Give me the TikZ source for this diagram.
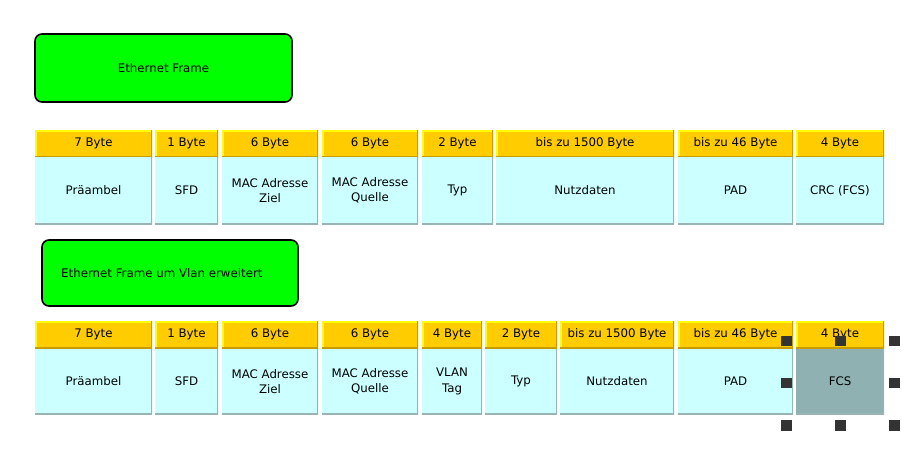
\documentclass[tikz,border=0pt]{standalone}
\usepackage{fontspec}
\setmainfont{DejaVu Sans}
\definecolor{headcol}{HTML}{FFCC00}
\definecolor{headhi}{HTML}{FFFF00}
\definecolor{headlo}{HTML}{C89B00}
\definecolor{bodycol}{HTML}{CCFFFF}
\definecolor{bodylo}{HTML}{9AB4B4}
\definecolor{fcscol}{HTML}{8FB1B1}
\definecolor{titlecol}{HTML}{00FF00}
\definecolor{handlecol}{HTML}{333333}
\tikzset{
  cellhead/.style={fill=headcol, inner sep=0pt, minimum height=27pt,
    path picture={
      \draw[line width=3pt, headhi] (path picture bounding box.south west) -- (path picture bounding box.north west) -- (path picture bounding box.north east);
      \draw[line width=3pt, headlo] (path picture bounding box.north east) -- (path picture bounding box.south east) -- (path picture bounding box.south west);}},
  cellbody/.style={fill=bodycol, inner sep=0pt, align=center,
    path picture={
      \draw[line width=3pt, bodylo] (path picture bounding box.north east) -- (path picture bounding box.south east) -- (path picture bounding box.south west);}},
  cellsel/.style={cellbody, fill=fcscol},
  titlebox/.style={draw, line width=1.6pt, fill=titlecol, rounded corners=7pt, inner sep=0pt},
  handle/.style={fill=handlecol, inner sep=0pt, minimum size=10.5pt},
}
\begin{document}
\begin{tikzpicture}[x=1pt, y=-1pt, font=\fontsize{11.8}{15.5}\selectfont]
\useasboundingbox (0,0) rectangle (920,450);

% Ethernet Frame
\node[titlebox, minimum width=257pt, minimum height=68pt] (title1) at (163.5,68) {Ethernet Frame};
\foreach \l/\r/\h/\b [count=\i] in {
  35/152/7 Byte/Präambel,
  155/218/1 Byte/SFD,
  222/318/6 Byte/{MAC Adresse\\Ziel},
  322/418/6 Byte/{MAC Adresse\\Quelle},
  422/493/2 Byte/Typ,
  496/674/bis zu 1500 Byte/Nutzdaten,
  678/793/bis zu 46 Byte/PAD,
  796/884/4 Byte/CRC (FCS)}{
  \node[cellhead, minimum width=(\r-\l)*1pt] (h1-\i) at ({(\l+\r)/2},143.5) {\h};
  \node[cellbody, minimum width=(\r-\l)*1pt, minimum height=67pt] (b1-\i) at ({(\l+\r)/2},190.5) {\b};
}

% mit VLAN Tag
\node[titlebox, minimum width=256pt, minimum height=66pt] (title2) at (170,273) {};
\node[anchor=west, inner sep=0pt] (title2text) at (61,273) {Ethernet Frame um Vlan erweitert};
\foreach \l/\r/\h/\b/\s [count=\i] in {
  35/152/7 Byte/Präambel/cellbody,
  155/218/1 Byte/SFD/cellbody,
  222/318/6 Byte/{MAC Adresse\\Ziel}/cellbody,
  322/418/6 Byte/{MAC Adresse\\Quelle}/cellbody,
  422/482/4 Byte/{VLAN\\Tag}/cellbody,
  485/557/2 Byte/Typ/cellbody,
  560/674/bis zu 1500 Byte/Nutzdaten/cellbody,
  678/793/bis zu 46 Byte/PAD/cellbody,
  796/884/4 Byte/FCS/cellsel}{
  \node[cellhead, minimum width=(\r-\l)*1pt] (h2-\i) at ({(\l+\r)/2},334.5) {\h};
  \node[\s, minimum width=(\r-\l)*1pt, minimum height=65pt] (b2-\i) at ({(\l+\r)/2},381.5) {\b};
}

% Auswahl
\foreach \x/\y [count=\i] in {786.5/341,840.5/341,894.5/341,786.5/383,894.5/383,786.5/425.5,840.5/425.5,894.5/425.5}
  \node[handle] (hd\i) at (\x,\y) {};
\end{tikzpicture}
\end{document}
